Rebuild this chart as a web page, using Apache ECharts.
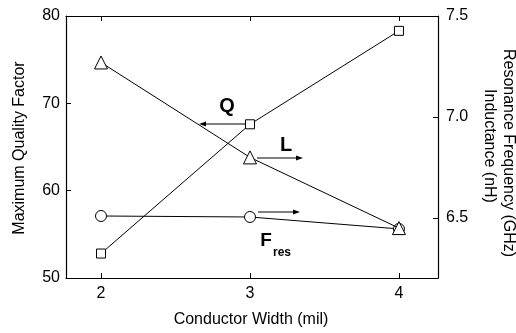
<!DOCTYPE html>
<html>
<head>
<meta charset="utf-8">
<script src="https://cdn.jsdelivr.net/npm/echarts@6/dist/echarts.min.js"></script>
<style>
  html, body { margin: 0; padding: 0; background: #fff; }
  #main { width: 516px; height: 333px; }
</style>
</head>
<body>
<div id="main"></div>
<script>
// conductor width (mil)
var widths = [2, 3, 4];
// maximum quality factor (left axis)
var qValues = [52.8, 67.6, 78.3];
// inductance nH (right axis)
var lValues = [7.27, 6.80, 6.45];
// resonance frequency GHz (right axis)
var fValues = [6.51, 6.505, 6.446];
var xTicks = [2, 3, 4];
var rightTicks = [6.5, 7.0, 7.5];

var font = 'Liberation Sans, Arial, sans-serif';
var chart = echarts.init(document.getElementById('main'));

function pairs(ys) {
  return widths.map(function (x, i) { return [x, ys[i]]; });
}

// small arrow for the annotations
function arrow(x1, y1, x2, y2) {
  var dx = x2 - x1, dy = y2 - y1;
  var len = Math.sqrt(dx * dx + dy * dy);
  var ux = dx / len, uy = dy / len;
  var hl = 7, hw = 2.5;
  var bx = x2 - ux * hl, by = y2 - uy * hl;
  return {
    type: 'group',
    children: [
      { type: 'line', shape: { x1: x1, y1: y1, x2: bx, y2: by }, style: { stroke: '#000', lineWidth: 1 } },
      { type: 'polygon', shape: { points: [[x2, y2], [bx - uy * hw, by + ux * hw], [bx + uy * hw, by - ux * hw]] }, style: { fill: '#000' } }
    ]
  };
}

var tickStyle = { color: '#000', fontSize: 16, fontFamily: font };

var option = {
  animation: false,
  backgroundColor: '#fff',
  grid: { left: 66, top: 16, right: 78, bottom: 55 },
  xAxis: [{
    type: 'value',
    min: 1.765, max: 4.262,
    splitLine: { show: false },
    axisLine: { lineStyle: { color: '#000', width: 1.2 } },
    axisTick: { inside: true, length: 5, customValues: xTicks, lineStyle: { color: '#000' } },
    axisLabel: Object.assign({ customValues: xTicks, margin: 8 }, tickStyle)
  }, {
    type: 'value',
    position: 'top',
    min: 1.765, max: 4.262,
    splitLine: { show: false },
    axisLine: { lineStyle: { color: '#000', width: 1.2 } },
    axisTick: { inside: true, length: 5, customValues: xTicks, lineStyle: { color: '#000' } },
    axisLabel: { show: false }
  }],
  yAxis: [{
    type: 'value',
    min: 50, max: 80, interval: 10,
    splitLine: { show: false },
    axisLine: { show: true, lineStyle: { color: '#000', width: 1.2 } },
    axisTick: { show: true, inside: true, length: 5, lineStyle: { color: '#000' } },
    axisLabel: Object.assign({ margin: 6 }, tickStyle)
  }, {
    type: 'value',
    position: 'right',
    min: 6.203, max: 7.5,
    splitLine: { show: false },
    axisLine: { show: true, lineStyle: { color: '#000', width: 1.2 } },
    axisTick: { show: true, inside: true, length: 5, customValues: rightTicks, lineStyle: { color: '#000' } },
    axisLabel: Object.assign({
      customValues: rightTicks, margin: 8,
      formatter: function (v) { return v.toFixed(1); }
    }, tickStyle)
  }],
  series: [{
    name: 'Q',
    type: 'line',
    yAxisIndex: 0,
    data: pairs(qValues),
    symbol: 'rect', symbolSize: 9,
    lineStyle: { color: '#000', width: 1 },
    itemStyle: { color: '#fff', borderColor: '#000', borderWidth: 1 }
  }, {
    name: 'L',
    type: 'line',
    yAxisIndex: 1,
    data: pairs(lValues),
    symbol: 'triangle', symbolSize: 13,
    lineStyle: { color: '#000', width: 1 },
    itemStyle: { color: '#fff', borderColor: '#000', borderWidth: 1 }
  }, {
    name: 'Fres',
    type: 'line',
    yAxisIndex: 1,
    data: pairs(fValues),
    symbol: 'circle', symbolSize: 11,
    z: 1,
    lineStyle: { color: '#000', width: 1 },
    itemStyle: { color: '#fff', borderColor: '#000', borderWidth: 1 }
  }],
  graphic: [
    { type: 'text', x: 20, y: 148, rotation: Math.PI / 2,
      style: { text: 'Maximum Quality Factor', fill: '#000', font: '16px ' + font, textAlign: 'center', textVerticalAlign: 'middle' } },
    { type: 'text', x: 508, y: 153, rotation: -Math.PI / 2,
      style: { text: 'Resonance Frequency (GHz)', fill: '#000', font: '16px ' + font, textAlign: 'center', textVerticalAlign: 'middle' } },
    { type: 'text', x: 489, y: 146, rotation: -Math.PI / 2,
      style: { text: 'Inductance (nH)', fill: '#000', font: '16px ' + font, textAlign: 'center', textVerticalAlign: 'middle' } },
    { type: 'text', x: 251, y: 320,
      style: { text: 'Conductor Width (mil)', fill: '#000', font: '16px ' + font, textAlign: 'center', textVerticalAlign: 'middle' } },
    { type: 'text', x: 227, y: 106,
      style: { text: 'Q', fill: '#000', font: 'bold 20px ' + font, textAlign: 'center', textVerticalAlign: 'middle' } },
    { type: 'text', x: 286, y: 145,
      style: { text: 'L', fill: '#000', font: 'bold 20px ' + font, textAlign: 'center', textVerticalAlign: 'middle' } },
    { type: 'text', x: 266, y: 241,
      style: { text: 'F', fill: '#000', font: 'bold 19px ' + font, textAlign: 'center', textVerticalAlign: 'middle' } },
    { type: 'text', x: 282, y: 253,
      style: { text: 'res', fill: '#000', font: 'bold 12px ' + font, textAlign: 'center', textVerticalAlign: 'middle' } },
    arrow(246, 124, 199, 124),
    arrow(257, 158, 303, 158),
    arrow(258, 212, 300, 212)
  ]
};

chart.setOption(option);
</script>
</body>
</html>
